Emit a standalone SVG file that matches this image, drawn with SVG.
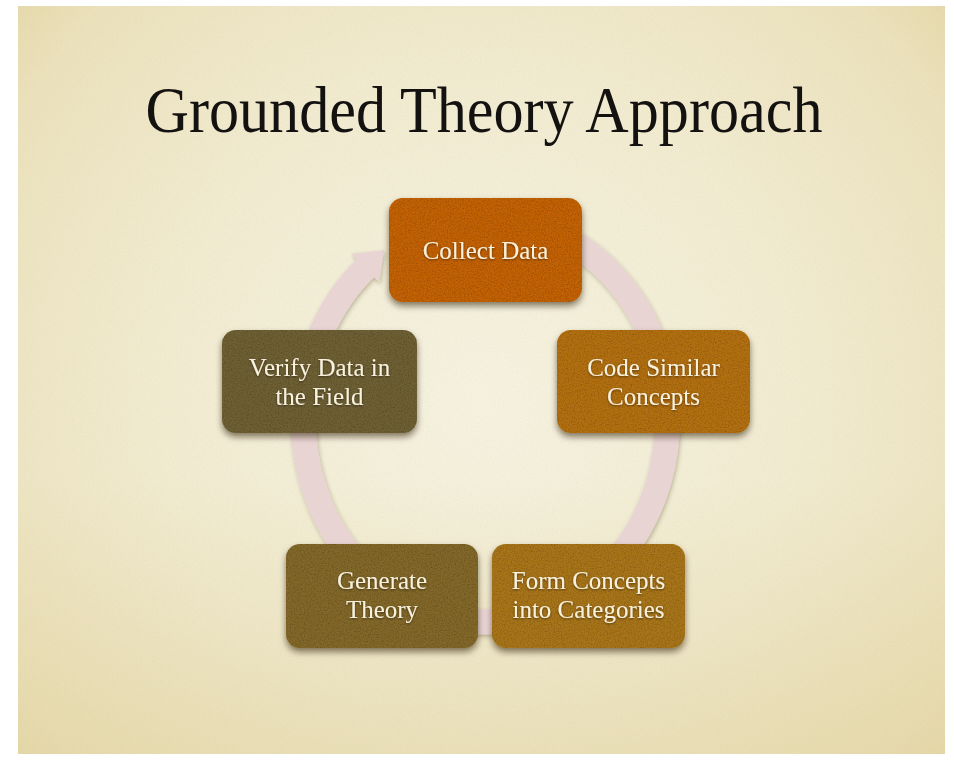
<svg xmlns="http://www.w3.org/2000/svg" width="954" height="761" viewBox="0 0 954 761">
  <defs>
    <radialGradient id="bg" cx="480" cy="400" r="640" gradientUnits="userSpaceOnUse">
      <stop offset="0" stop-color="#f5f2e0"/>
      <stop offset="0.5" stop-color="#f1ebd1"/>
      <stop offset="0.85" stop-color="#ebe1bc"/>
      <stop offset="1" stop-color="#e4d6a6"/>
    </radialGradient>
    <linearGradient id="bottomShade" x1="0" y1="0" x2="0" y2="1">
      <stop offset="0" stop-color="#dccb90" stop-opacity="0"/>
      <stop offset="1" stop-color="#dccb90" stop-opacity="0.35"/>
    </linearGradient>
    <filter id="noise" x="0" y="0" width="100%" height="100%">
      <feTurbulence type="fractalNoise" baseFrequency="0.8" numOctaves="2" seed="3" result="n"/>
      <feColorMatrix in="n" type="matrix" values="0 0 0 0 0.55  0 0 0 0 0.45  0 0 0 0 0.2  0.6 0 0 0 -0.25"/>
    </filter>
    <filter id="boxFx" x="-10%" y="-10%" width="120%" height="130%">
      <feGaussianBlur in="SourceAlpha" stdDeviation="3" result="b"/>
      <feOffset in="b" dy="4" result="o"/>
      <feFlood flood-color="#2a1a05" flood-opacity="0.55"/>
      <feComposite in2="o" operator="in" result="shadow"/>
      <feTurbulence type="fractalNoise" baseFrequency="0.7" numOctaves="3" seed="5" result="n"/>
      <feColorMatrix in="n" type="matrix" values="0 0 0 0 0  0 0 0 0 0  0 0 0 0 0  0.8 0 0 0 -0.33" result="dark"/>
      <feComposite in="dark" in2="SourceAlpha" operator="in" result="tex"/>
      <feMerge>
        <feMergeNode in="shadow"/>
        <feMergeNode in="SourceGraphic"/>
        <feMergeNode in="tex"/>
      </feMerge>
    </filter>
    <filter id="arcShadow" x="-10%" y="-10%" width="120%" height="120%">
      <feDropShadow dx="1" dy="2" stdDeviation="2" flood-color="#3a2a10" flood-opacity="0.3"/>
    </filter>
    <filter id="textShadow" x="-10%" y="-20%" width="120%" height="140%">
      <feDropShadow dx="0" dy="1" stdDeviation="0.8" flood-color="#000000" flood-opacity="0.5"/>
    </filter>
    <marker id="arrowHead" markerUnits="userSpaceOnUse" viewBox="0 -20 26 40" markerWidth="26" markerHeight="40" refX="1" refY="0" orient="auto">
      <path d="M0,-20 L26,0 L0,20 Z" fill="#e8d4d2"/>
    </marker>
  </defs>
  <style>
    .title { font-family: "Liberation Serif", "DejaVu Serif", serif; font-size: 66px; fill: #141210; text-anchor: middle; }
    .label { font-family: "Liberation Serif", "DejaVu Serif", serif; font-size: 25px; fill: #f7f1de; text-anchor: middle; filter: url(#textShadow); }
    .box { filter: url(#boxFx); }
    .cycle { fill: none; stroke: #e8d4d2; stroke-width: 25; filter: url(#arcShadow); }
  </style>

  <rect x="0" y="0" width="954" height="761" fill="#ffffff"/>
  <rect x="18" y="6" width="927" height="748" fill="url(#bg)"/>
  <rect x="18" y="480" width="927" height="274" fill="url(#bottomShade)"/>
  <rect x="18" y="6" width="927" height="748" filter="url(#noise)" opacity="0.35"/>

  <text class="title" x="484" y="132" textLength="677" lengthAdjust="spacingAndGlyphs">Grounded Theory Approach</text>

  <g id="connectors">
    <path class="cycle" d="M560,235.7 A182,202 0 1,1 366,267.6" marker-end="url(#arrowHead)"/>
  </g>

  <g id="node-collect-data">
    <rect class="box" x="389" y="198" width="193" height="104" rx="14" fill="#c2620e"/>
    <text class="label" x="485.5" y="259">Collect Data</text>
  </g>

  <g id="node-code-similar">
    <rect class="box" x="557" y="330" width="193" height="103" rx="14" fill="#b26f12"/>
    <text class="label" x="653.5" y="376">Code Similar</text>
    <text class="label" x="653.5" y="405">Concepts</text>
  </g>

  <g id="node-form-concepts">
    <rect class="box" x="492" y="544" width="193" height="104" rx="14" fill="#a7751b"/>
    <text class="label" x="588.5" y="589">Form Concepts</text>
    <text class="label" x="588.5" y="618">into Categories</text>
  </g>

  <g id="node-generate-theory">
    <rect class="box" x="286" y="544" width="192" height="104" rx="14" fill="#82682a"/>
    <text class="label" x="382" y="589">Generate</text>
    <text class="label" x="382" y="618">Theory</text>
  </g>

  <g id="node-verify-data">
    <rect class="box" x="222" y="330" width="195" height="103" rx="14" fill="#6e6136"/>
    <text class="label" x="319.5" y="376">Verify Data in</text>
    <text class="label" x="319.5" y="405">the Field</text>
  </g>
</svg>
